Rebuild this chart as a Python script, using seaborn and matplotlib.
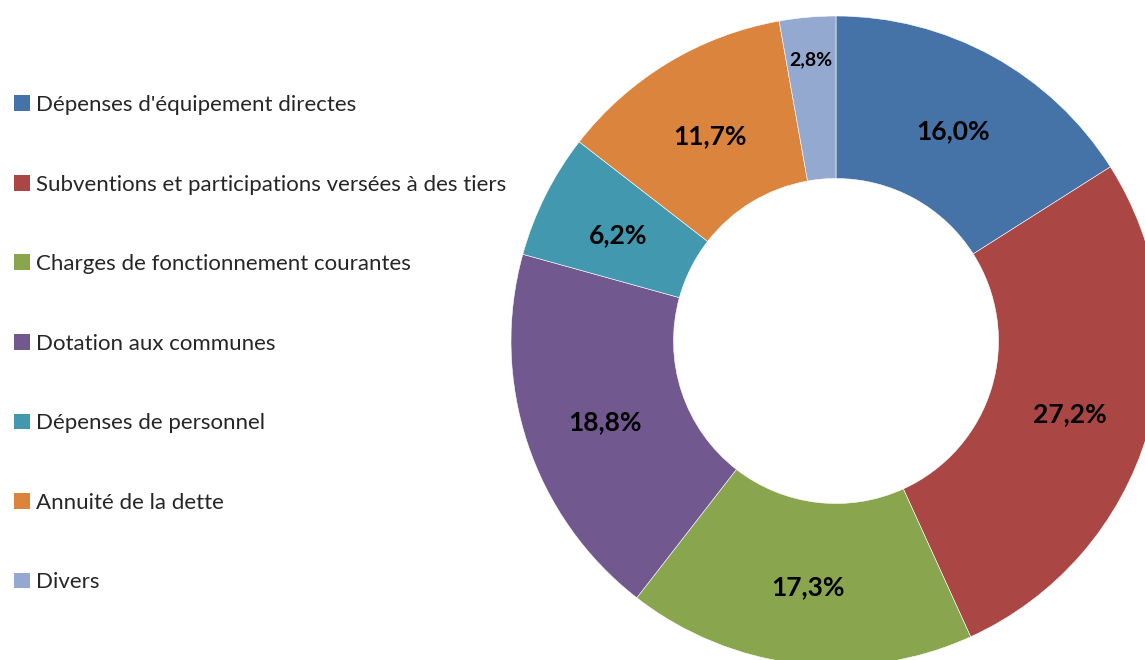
import matplotlib
matplotlib.use("Agg")
import matplotlib.pyplot as plt
import seaborn as sns
import numpy as np
from matplotlib.patches import Patch

categories = [
    "Dépenses d'équipement directes",
    "Subventions et participations versées à des tiers",
    "Charges de fonctionnement courantes",
    "Dotation aux communes",
    "Dépenses de personnel",
    "Annuité de la dette",
    "Divers",
]
values = [16.0, 27.2, 17.3, 18.8, 6.2, 11.7, 2.8]
colors = ["#4572A7", "#AA4643", "#89A54E", "#71588F", "#4198AF", "#DB843D", "#93A9CF"]

sns.set_theme(style="white")
plt.rcParams['font.family'] = ['Lato', 'DejaVu Sans']
palette = sns.color_palette(colors)

fig = plt.figure(figsize=(11.45, 6.6), dpi=100)
W, H = 1145, 660
cx, cy, r = 836, 341, 325
ax = fig.add_axes([(cx - r) / W, (H - cy - r) / H, 2 * r / W, 2 * r / H])

wedges, _ = ax.pie(values, colors=palette, startangle=90, counterclock=False,
                   radius=1.0, wedgeprops=dict(width=0.5, edgecolor="white", linewidth=0.4))
ax.set_xlim(-1, 1)
ax.set_ylim(-1, 1)
ax.set_aspect("equal")
ax.axis("off")

cum = np.cumsum([0] + values[:-1])
for v, c in zip(values, cum):
    ang = np.deg2rad(90 - (c + v / 2) * 3.6)
    rr = 0.75 if v > 5 else 0.88
    fs = 19 if v > 5 else 14
    ax.text(rr * np.cos(ang), rr * np.sin(ang) - 0.012, f"{v:.1f}%".replace('.', ','),
            ha="center", va="center", fontsize=fs, fontweight="bold", color="black")

handles = [Patch(facecolor=col, edgecolor="none") for col in palette]
fig.legend(handles, categories, loc="upper left", bbox_to_anchor=(14 / W, 1 - 95 / H),
           frameon=False, fontsize=16, handlelength=0.72, handleheight=0.72,
           handletextpad=0.25, labelspacing=2.68, borderaxespad=0, borderpad=0)

fig.savefig("out.png", dpi=100)
